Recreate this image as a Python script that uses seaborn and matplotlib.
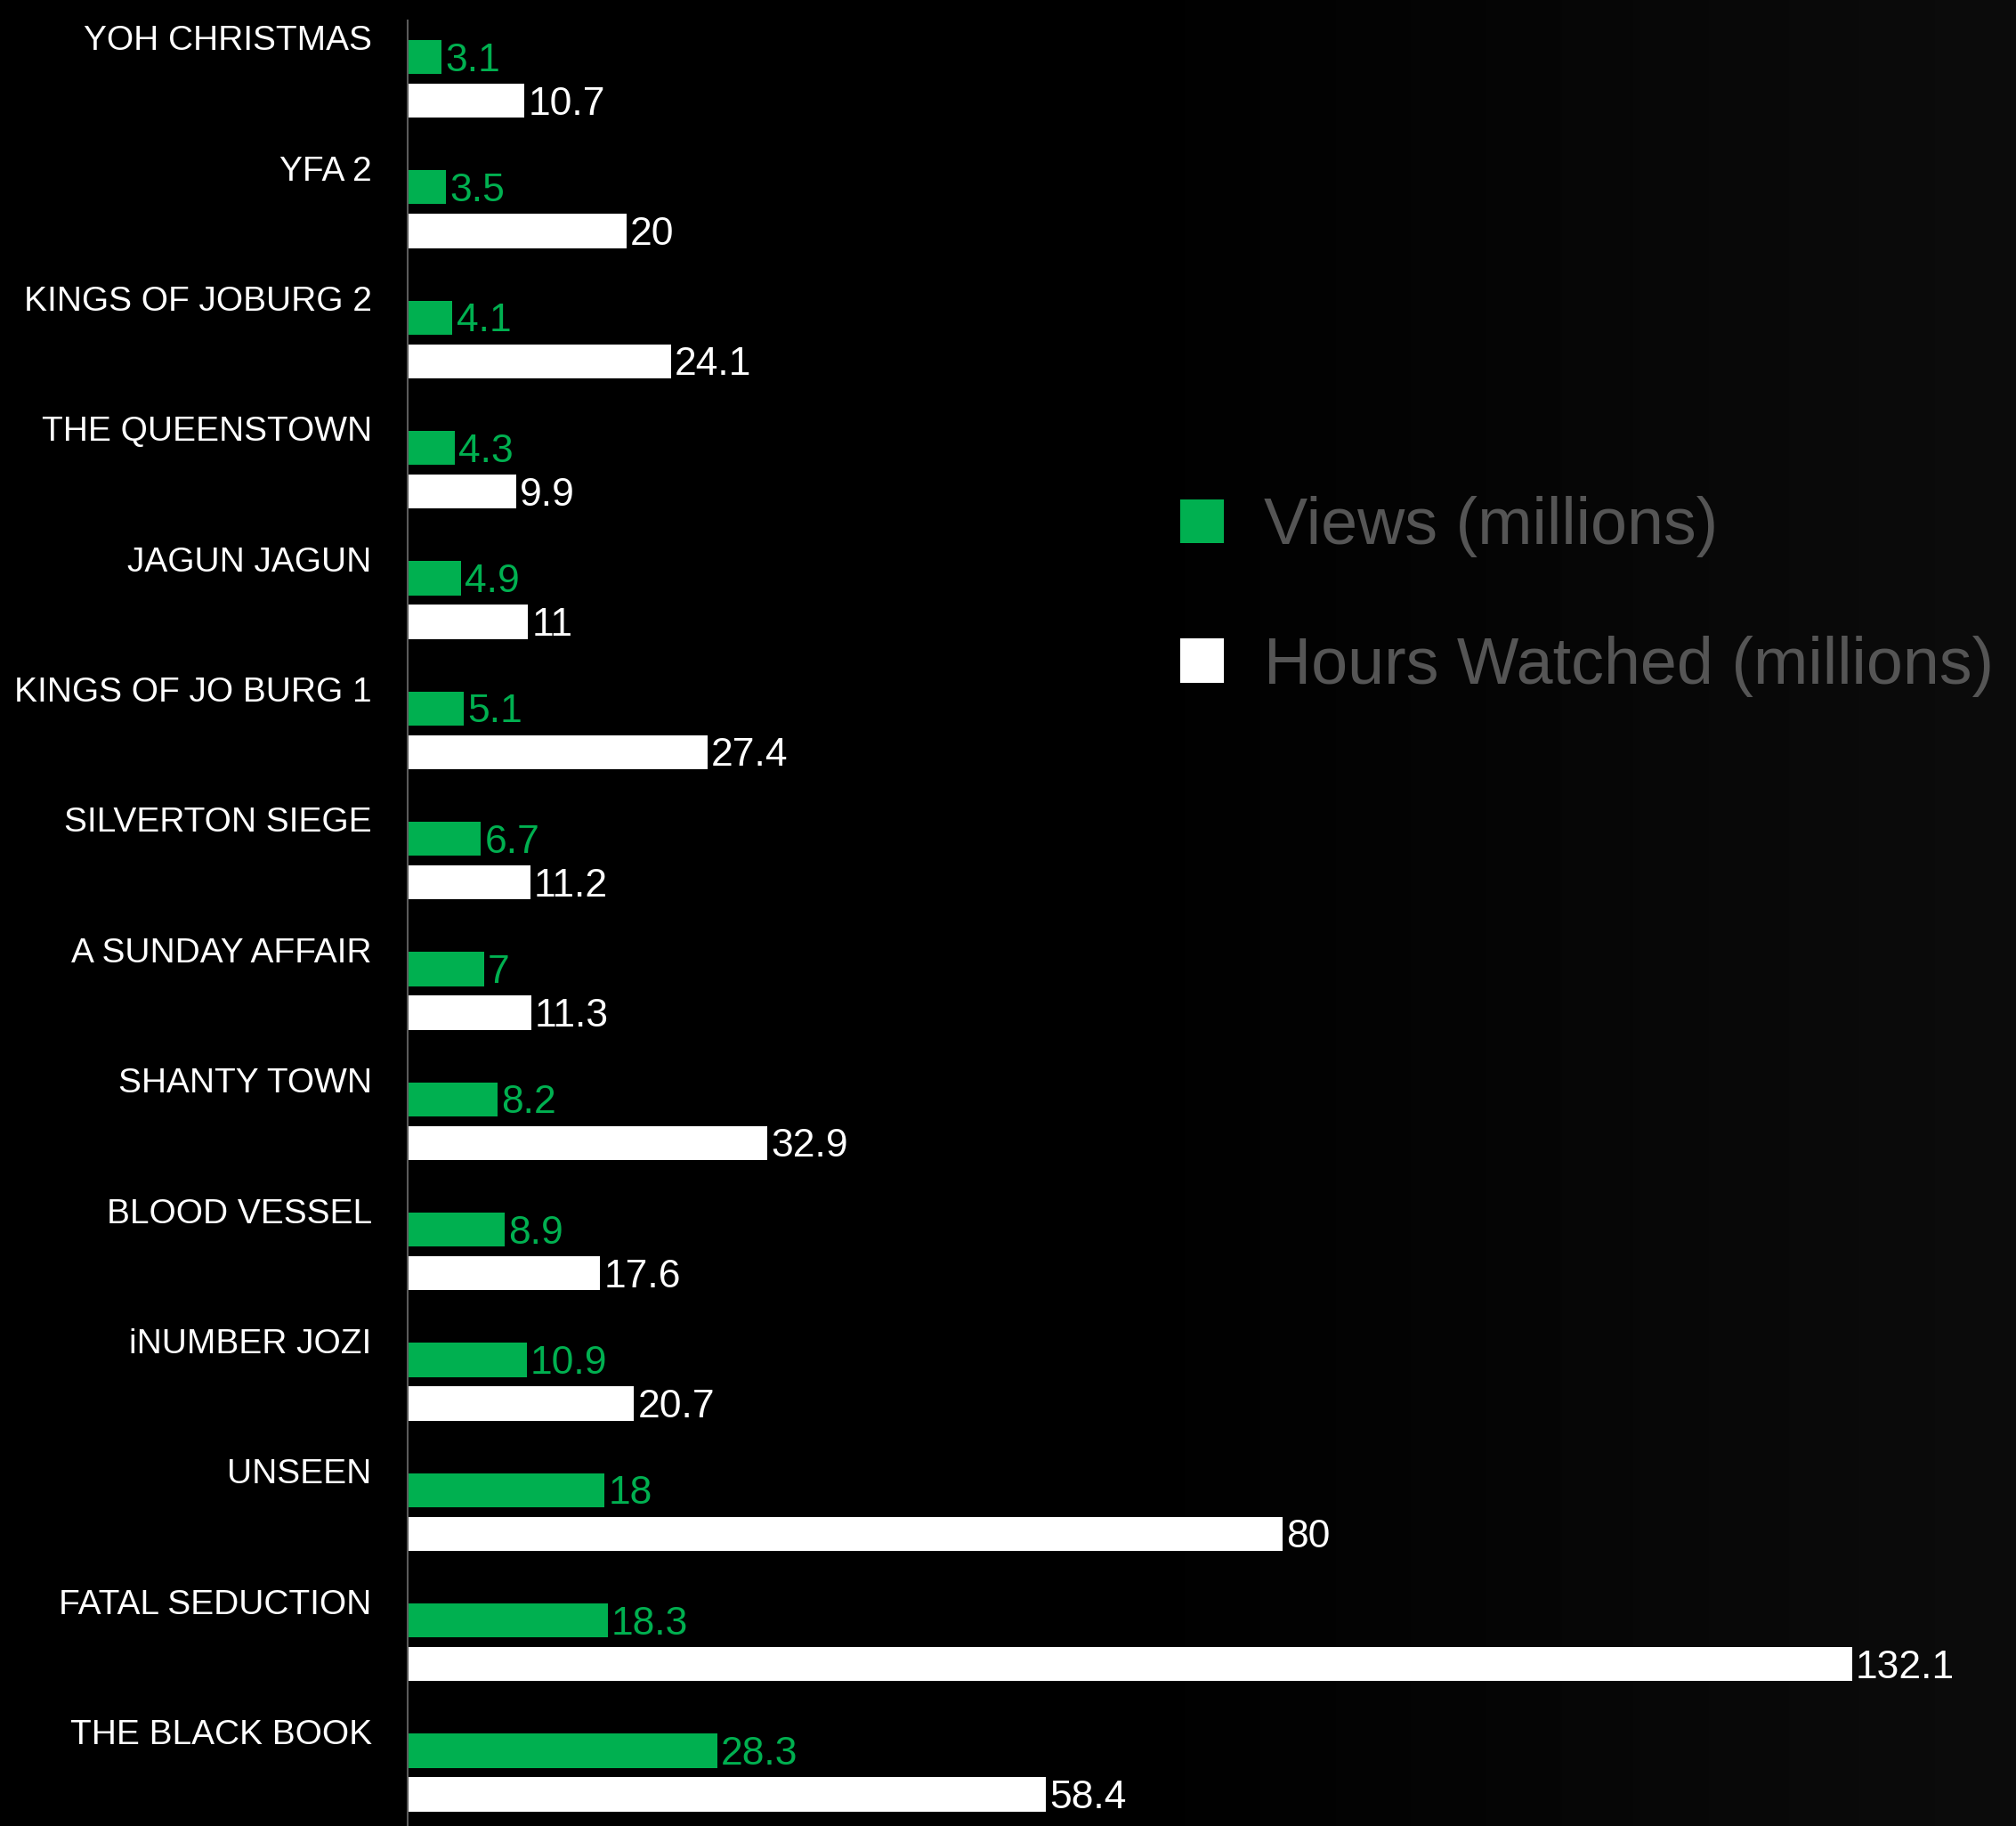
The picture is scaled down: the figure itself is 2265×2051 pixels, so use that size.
import numpy as np
import pandas as pd
import matplotlib
matplotlib.use("Agg")
import matplotlib.pyplot as plt
from matplotlib.colors import LinearSegmentedColormap
import seaborn as sns

# chart data (top to bottom)
titles = ["YOH CHRISTMAS", "YFA 2", "KINGS OF JOBURG 2", "THE QUEENSTOWN",
          "JAGUN JAGUN", "KINGS OF JO BURG 1", "SILVERTON SIEGE",
          "A SUNDAY AFFAIR", "SHANTY TOWN", "BLOOD VESSEL", "iNUMBER JOZI",
          "UNSEEN", "FATAL SEDUCTION", "THE BLACK BOOK"]
views = [3.1, 3.5, 4.1, 4.3, 4.9, 5.1, 6.7, 7, 8.2, 8.9, 10.9, 18, 18.3, 28.3]
hours = [10.7, 20, 24.1, 9.9, 11, 27.4, 11.2, 11.3, 32.9, 17.6, 20.7, 80, 132.1, 58.4]
series = ["Views (millions)", "Hours Watched (millions)"]

GREEN = "#00b050"
WHITE = "#ffffff"

#-----------------------------------------------------------------
# Function Name : BuildFrame
# Description   : puts the lists into one long dataframe for seaborn
#------------------------------------------------------------------
def BuildFrame():
    df = pd.DataFrame({
        "Title": titles * 2,
        "Series": [series[0]] * len(titles) + [series[1]] * len(titles),
        "Value": views + hours,
    })
    return df

#-----------------------------------------------------------------
# Function Name : DrawBackground
# Description   : black figure with a faint grey glow on the right
#------------------------------------------------------------------
def DrawBackground(fig):
    bg = fig.add_axes([0, 0, 1, 1], zorder=-10)
    xs = np.linspace(0, 1, 400)
    grad = np.clip((xs - 0.55) / 0.45, 0, 1)
    img = np.tile(grad, (50, 1))
    cmap = LinearSegmentedColormap.from_list("bg", ["#000000", "#0c0c0c"])
    bg.imshow(img, aspect="auto", cmap=cmap, vmin=0, vmax=1, extent=[0, 1, 0, 1])
    bg.set_axis_off()

#-----------------------------------------------------------------
# Function Name : main
# Description   : draws the grouped horizontal bars and saves out.png
#------------------------------------------------------------------
def main():
    df = BuildFrame()

    sns.set_theme(style="white")
    plt.rcParams["font.family"] = ["Liberation Sans", "DejaVu Sans"]

    fig = plt.figure(figsize=(22.65, 20.51), dpi=100)
    fig.patch.set_facecolor("black")
    DrawBackground(fig)

    ax = fig.add_axes([458 / 2265, 0, 1 - 458 / 2265, 1])
    ax.set_facecolor("none")

    sns.barplot(data=df, y="Title", x="Value", hue="Series", order=titles,
                hue_order=series, palette=[GREEN, WHITE], orient="h",
                width=0.67, gap=0.22, errorbar=None, saturation=1,
                linewidth=0, ax=ax)

    ax.set_xlim(0, 147.1)
    ax.set_ylim(13.41, -0.605)

    # value labels, nudged a little lower like the original
    for cont, vals, col in zip(ax.containers, [views, hours], [GREEN, WHITE]):
        anns = ax.bar_label(cont, labels=[f"{v:g}" for v in vals], padding=3,
                            color=col, fontsize=32)
        for a in anns:
            a.xyann = (3, -3)

    # category labels sit above the green bar
    ax.set_yticks([i - 0.315 for i in range(len(titles))])
    ax.set_yticklabels(titles, color="white", fontsize=28)
    ax.tick_params(axis="y", length=0, pad=29)
    ax.set_xticks([])
    ax.set_xlabel("")
    ax.set_ylabel("")

    for side in ["top", "right", "bottom"]:
        ax.spines[side].set_visible(False)
    ax.spines["left"].set_color("#5a5a5a")
    ax.spines["left"].set_linewidth(1.5)
    ax.spines["left"].set_bounds(-0.45, 13.41)

    handles, labels = ax.get_legend_handles_labels()
    ax.legend(handles, labels, loc="center left",
              bbox_to_anchor=(1326 / 2265, 1 - 670 / 2051),
              bbox_transform=fig.transFigure, frameon=False, fontsize=53,
              labelcolor="#555555", handlelength=0.66, handleheight=0.66,
              handletextpad=0.62, labelspacing=1.19, borderpad=0,
              borderaxespad=0)

    fig.savefig("out.png", dpi=100, facecolor=fig.get_facecolor())

if __name__ == "__main__":
    main()
